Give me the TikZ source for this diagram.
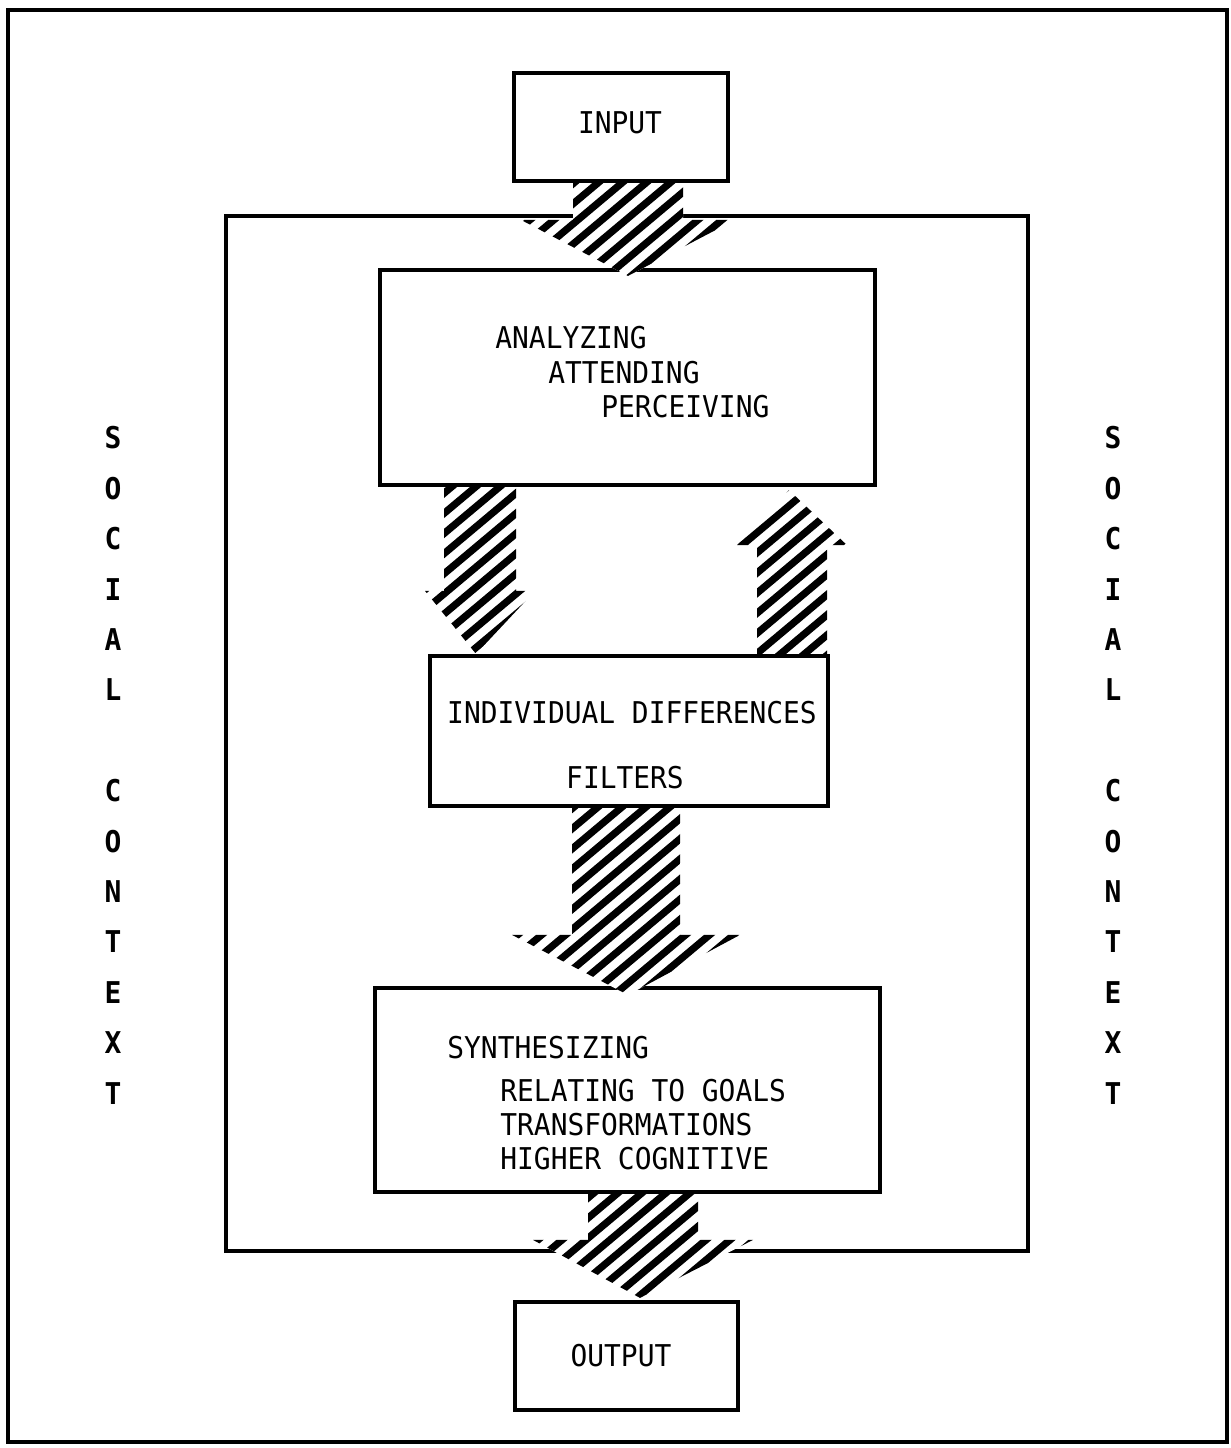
\documentclass[tikz,border=0pt]{standalone}
\usepackage{fontspec}
\setmonofont[FakeStretch=0.93]{DejaVu Sans Mono}
\usetikzlibrary{calc}
\tikzset{
  frame/.style={draw=black, line width=2.4pt, inner sep=0pt},
  box/.style={draw=black, line width=2.1pt, inner sep=0pt},
  txt/.style={inner sep=0pt, font=\ttfamily\fontsize{15}{15}\selectfont},
  side/.style={inner sep=0pt, font=\ttfamily\bfseries\fontsize{15}{15}\selectfont},
  hatchline/.style={line width=3.6pt},
}
% #1 start, #2 tip, #3 shaft half width, #4 head half width, #5 signed offset tip->head base
\newcommand\hatcharrow[5]{%
  \fill[white] ($(#1)+(-#3,0)$) -- ($(#1)+(#3,0)$) -- ($(#1|-#2)+(#3,#5)$)
      -- ($(#1|-#2)+(#4,#5)$) -- (#2) -- ($(#1|-#2)+(-#4,#5)$) -- ($(#1|-#2)+(-#3,#5)$) -- cycle;
  \begin{scope}
    \clip ($(#1)+(-#3,0)$) -- ($(#1)+(#3,0)$) -- ($(#1|-#2)+(#3,#5)$)
      -- ($(#1|-#2)+(#4,#5)$) -- (#2) -- ($(#1|-#2)+(-#4,#5)$) -- ($(#1|-#2)+(-#3,#5)$) -- cycle;
    \foreach \c in {0,24,...,3200} \draw[hatchline] (\c,0) -- (\c-1800,1510);
  \end{scope}}
\begin{document}
\begin{tikzpicture}[x=0.5pt, y=-0.5pt]
\useasboundingbox (0,0) rectangle (1231,1448);
% frames
\node[frame, minimum width=609.5pt, minimum height=716pt] (outer) at (617.5,726) {};
\node[frame, minimum width=401pt, minimum height=517.5pt] (inner) at (627,733.5) {};
% boxes
\node[box, minimum width=107pt, minimum height=54pt] (input) at (621,127) {};
\node[box, minimum width=247.5pt, minimum height=107.5pt] (box1) at (627.5,377.5) {};
\node[box, minimum width=199pt, minimum height=75pt] (box2) at (629,731) {};
\node[box, minimum width=252.5pt, minimum height=102pt] (box3) at (627.5,1090) {};
\node[box, minimum width=111.5pt, minimum height=54pt] (output) at (626.5,1356) {};
% arrow end points
\coordinate (a1s) at ($(input.south)+(7,0)$);
\coordinate (a1t) at ($(box1.north)+(0.5,8)$);
\coordinate (a2s) at ($(box1.south)+(-147.5,0)$);
\coordinate (a2t) at ($(box2.north)+(-153,0)$);
\coordinate (a3s) at ($(box2.north)+(163,0)$);
\coordinate (a3t) at ($(box1.south)+(161.5,3)$);
\coordinate (a4s) at ($(box2.south)+(-3,0)$);
\coordinate (a4t) at ($(box3.north)+(0.5,9)$);
\coordinate (a5s) at ($(box3.south)+(15.5,0)$);
\coordinate (a5t) at ($(output.north)+(13.5,-2)$);
% hatched block arrows
\hatcharrow{a1s}{a1t}{55}{107}{-56}
\hatcharrow{a2s}{a2t}{36}{55}{-63}
\hatcharrow{a3s}{a3t}{35}{55}{55}
\hatcharrow{a4s}{a4t}{54}{114}{-60}
\hatcharrow{a5s}{a5t}{55}{110}{-58}
% texts
\node[txt] (tin) at (620,123) {INPUT};
\node[txt] (tout) at (621,1356) {OUTPUT};
\node[txt, anchor=west] (t11) at (495,338) {ANALYZING};
\node[txt, anchor=west] (t12) at (548,373) {ATTENDING};
\node[txt, anchor=west] (t13) at (601,407) {PERCEIVING};
\node[txt] (t21) at (632,713) {INDIVIDUAL DIFFERENCES};
\node[txt] (t22) at (625,778) {FILTERS};
\node[txt, anchor=west] (t31) at (447,1048) {SYNTHESIZING};
\node[txt, anchor=west] (t32) at (500,1091) {RELATING TO GOALS};
\node[txt, anchor=west] (t33) at (500,1125) {TRANSFORMATIONS};
\node[txt, anchor=west] (t34) at (500,1159) {HIGHER COGNITIVE};
% side labels
\foreach \l/\k in {S/0,O/1,C/2,I/3,A/4,L/5,C/7,O/8,N/9,T/10,E/11,X/12,T/13}{
  \node[side] (sl\k) at (113,438+50.4*\k) {\l};
  \node[side] (sr\k) at (1113,438+50.4*\k) {\l};
}
\end{tikzpicture}
\end{document}
